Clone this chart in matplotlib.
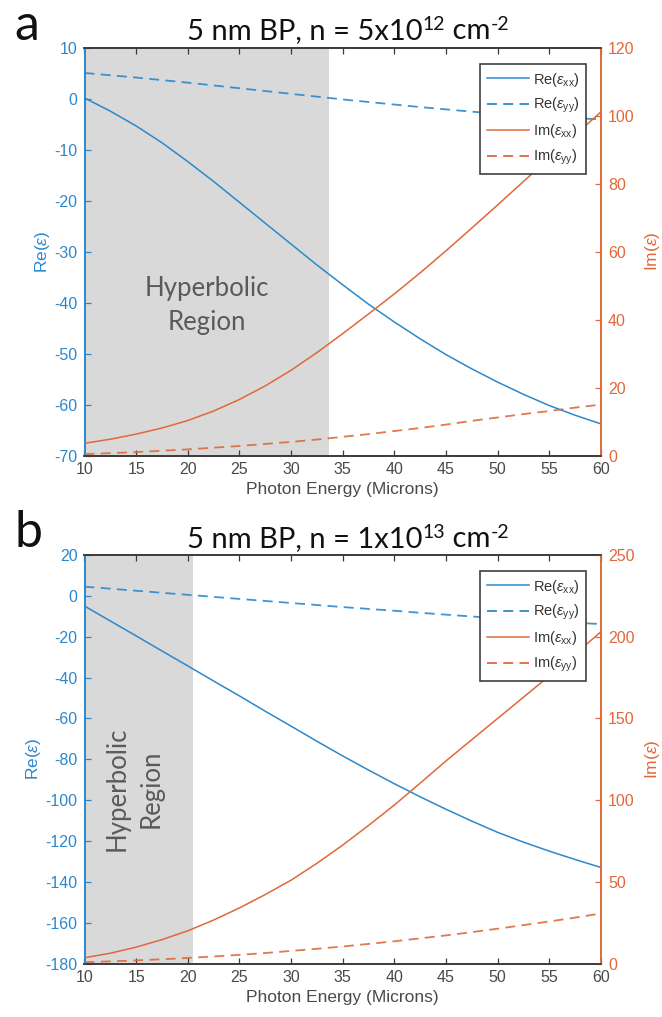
import matplotlib
matplotlib.use("Agg")
import matplotlib.pyplot as plt
from matplotlib.lines import Line2D

# Wavelength grid (microns)
wavelength = [10, 12.5, 15, 17.5, 20, 22.5, 25, 27.5, 30, 32.5, 35,
              37.5, 40, 42.5, 45, 47.5, 50, 52.5, 55, 57.5, 60]

# Panel a: n = 5e12 cm^-2
re_xx_a = [0.2, -2.4, -5.3, -8.6, -12.3, -16.2, -20.3, -24.4, -28.5, -32.6,
           -36.5, -40.3, -43.8, -47.1, -50.2, -53.0, -55.6, -58.0, -60.2,
           -62.1, -63.8]
re_yy_a = [5.1, 4.65, 4.2, 3.7, 3.2, 2.65, 2.1, 1.55, 1.0, 0.45, -0.1, -0.6,
           -1.1, -1.6, -2.05, -2.5, -2.9, -3.25, -3.55, -3.8, -4.0]
im_xx_a = [3.6, 4.8, 6.3, 8.1, 10.3, 13.1, 16.5, 20.5, 25.1, 30.3, 35.9,
           41.7, 47.6, 53.8, 60.3, 67.0, 73.8, 80.7, 87.6, 94.4, 101.2]
im_yy_a = [0.4, 0.7, 1.0, 1.4, 1.8, 2.3, 2.8, 3.4, 4.0, 4.7, 5.5, 6.3, 7.2,
           8.1, 9.1, 10.2, 11.2, 12.2, 13.1, 14.1, 15.0]
hyper_end_a = 33.7

# Panel b: n = 1e13 cm^-2
re_xx_b = [-5.0, -12.3, -19.6, -27.0, -34.3, -41.7, -49.0, -56.5, -63.8,
           -71.2, -78.4, -85.3, -92.0, -98.4, -104.5, -110.3, -115.8, -120.6,
           -125.0, -129.1, -133.0]
re_yy_b = [4.5, 3.5, 2.5, 1.5, 0.5, -0.5, -1.5, -2.5, -3.5, -4.5, -5.5, -6.4,
           -7.3, -8.3, -9.2, -10.1, -11.0, -11.8, -12.5, -13.2, -13.8]
im_xx_b = [3.5, 6.3, 10.0, 14.6, 20.0, 26.6, 34.0, 42.2, 51.0, 61.3, 72.5,
           84.5, 97.0, 110.4, 124.0, 137.0, 150.0, 163.0, 176.0, 189.5, 203.0]
im_yy_b = [0.8, 1.3, 1.9, 2.6, 3.4, 4.3, 5.3, 6.4, 7.7, 9.0, 10.4, 12.0,
           13.6, 15.4, 17.2, 19.2, 21.3, 23.5, 25.7, 28.1, 30.6]
hyper_end_b = 20.5

x_ticks = [10, 15, 20, 25, 30, 35, 40, 45, 50, 55, 60]
left_ticks_a = [-70, -60, -50, -40, -30, -20, -10, 0, 10]
right_ticks_a = [0, 20, 40, 60, 80, 100, 120]
left_ticks_b = [-180, -160, -140, -120, -100, -80, -60, -40, -20, 0, 20]
right_ticks_b = [0, 50, 100, 150, 200, 250]

BLUE = "#2b88cc"
ORANGE = "#e0683a"
AXGRAY = "#3a3a3a"
TICKFONT = "Liberation Sans"
TEXTFONT = "Lato"

plt.rcParams["font.family"] = [TICKFONT, "DejaVu Sans"]
plt.rcParams["axes.unicode_minus"] = False
plt.rcParams["mathtext.fontset"] = "custom"
plt.rcParams["mathtext.rm"] = TICKFONT
plt.rcParams["mathtext.it"] = TICKFONT + ":italic"

fig = plt.figure(figsize=(6.62, 10.17), dpi=100)

W, H = 662.0, 1017.0
DASH = (0, (5.5, 3.5))


def panel(rect, re_xx, re_yy, im_xx, im_yy, lticks, rticks, hyper_end,
          text_pos, text_rot):
    ax1 = fig.add_axes(rect)
    ax2 = ax1.twinx()

    ax1.axvspan(10, hyper_end, color="#d9d9d9", lw=0, zorder=0)
    ax1.text(text_pos[0], text_pos[1], "Hyperbolic\nRegion", ha="center",
             va="center", rotation=text_rot, fontsize=18.5, color="#5a5a5a",
             family=TEXTFONT, linespacing=1.45, zorder=1)

    ax1.plot(wavelength, re_xx, color=BLUE, lw=1.1, zorder=3)
    ax1.plot(wavelength, re_yy, color=BLUE, lw=1.3, ls=DASH, zorder=3,
             alpha=0.9)
    ax2.plot(wavelength, im_xx, color=ORANGE, lw=1.1, zorder=3)
    ax2.plot(wavelength, im_yy, color=ORANGE, lw=1.3, ls=DASH, zorder=3,
             alpha=0.9)

    ax1.set_xlim(10, 60)
    ax1.set_ylim(lticks[0], lticks[-1])
    ax2.set_ylim(rticks[0], rticks[-1])
    ax1.set_xticks(x_ticks)
    ax1.set_yticks(lticks)
    ax2.set_yticks(rticks)

    for sp in ("top", "bottom"):
        ax1.spines[sp].set_color(AXGRAY)
        ax2.spines[sp].set_color(AXGRAY)
    ax1.spines["left"].set_color(BLUE)
    ax2.spines["left"].set_color(BLUE)
    ax1.spines["right"].set_color(ORANGE)
    ax2.spines["right"].set_color(ORANGE)
    for ax in (ax1, ax2):
        for sp in ax.spines.values():
            sp.set_linewidth(1.2)

    ax1.tick_params(axis="x", direction="in", top=True, length=4,
                    width=0.9, color=AXGRAY, labelcolor="#4a4a4a",
                    labelsize=11.5, pad=5)
    ax1.tick_params(axis="y", direction="in", length=4, width=0.9,
                    color=BLUE, labelcolor=BLUE, labelsize=11.5, pad=5)
    ax2.tick_params(axis="y", direction="in", length=4, width=0.9,
                    color=ORANGE, labelcolor=ORANGE, labelsize=11.5, pad=5)

    ax1.set_xlabel("Photon Energy (Microns)", fontsize=12.5, color="#4a4a4a",
                   labelpad=3)
    ax1.set_ylabel("Re($\\epsilon$)", fontsize=12.5, color=BLUE, labelpad=2)
    ax2.set_ylabel("Im($\\epsilon$)", fontsize=12.5, color=ORANGE,
                   labelpad=6)

    labels = ["Re($\\epsilon_{\\mathregular{xx}}$)",
              "Re($\\epsilon_{\\mathregular{yy}}$)",
              "Im($\\epsilon_{\\mathregular{xx}}$)",
              "Im($\\epsilon_{\\mathregular{yy}}$)"]
    handles = [Line2D([], [], color=BLUE, lw=1.1),
               Line2D([], [], color=BLUE, lw=1.3, ls=DASH),
               Line2D([], [], color=ORANGE, lw=1.1),
               Line2D([], [], color=ORANGE, lw=1.3, ls=DASH)]
    leg = ax2.legend(handles, labels, loc="upper right",
                     bbox_to_anchor=(1 - 15 / 516.5, 1 - 16 / 407.5),
                     borderaxespad=0, fontsize=10.5, handlelength=2.9,
                     handletextpad=0.25, labelspacing=0.5, borderpad=0.45,
                     fancybox=False, framealpha=1, edgecolor="#404040")
    leg.get_frame().set_linewidth(1.2)
    for t in leg.get_texts():
        t.set_color("#333333")
    return ax1, ax2


left = 84.5 / W
width = (601 - 84.5) / W
rect_a = [left, (H - 455.5) / H, width, (455.5 - 48) / H]
rect_b = [left, (H - 963.5) / H, width, (963.5 - 555) / H]

panel(rect_a, re_xx_a, re_yy_a, im_xx_a, im_yy_a, left_ticks_a,
      right_ticks_a, hyper_end_a, (21.85, -40.5), 0)
panel(rect_b, re_xx_b, re_yy_b, im_xx_b, im_yy_b, left_ticks_b,
      right_ticks_b, hyper_end_b, (14.85, -94.5), 90)


def title_with_sups(xc, y_base, parts, size=21, sup_size=14, rise=9.5):
    """Place a single-line title made of normal and superscript runs,
    centred horizontally on xc (pixels); y_base is the baseline (pixels
    from the top)."""
    renderer = fig.canvas.get_renderer()
    texts = []
    for s, sup in parts:
        t = fig.text(0, 0, s, fontsize=sup_size if sup else size,
                     family=TEXTFONT, color="#111111", ha="left",
                     va="baseline")
        texts.append((t, sup))
    widths = [t.get_window_extent(renderer).width for t, _ in texts]
    x = xc - sum(widths) / 2.0
    for (t, sup), w in zip(texts, widths):
        yy = y_base - (rise if sup else 0)
        t.set_position((x / W, 1 - yy / H))
        x += w


title_with_sups(348, 39, [("5 nm BP, n = 5x10", False), ("12", True),
                          (" cm", False), ("-2", True)])
title_with_sups(348, 547, [("5 nm BP, n = 1x10", False), ("13", True),
                           (" cm", False), ("-2", True)])

fig.text(14 / W, 1 - 40 / H, "a", ha="left", va="baseline", fontsize=36,
         family=TEXTFONT, color="#111111")
fig.text(14 / W, 1 - 547 / H, "b", ha="left", va="baseline", fontsize=36,
         family=TEXTFONT, color="#111111")

fig.savefig("out.png", dpi=100)
